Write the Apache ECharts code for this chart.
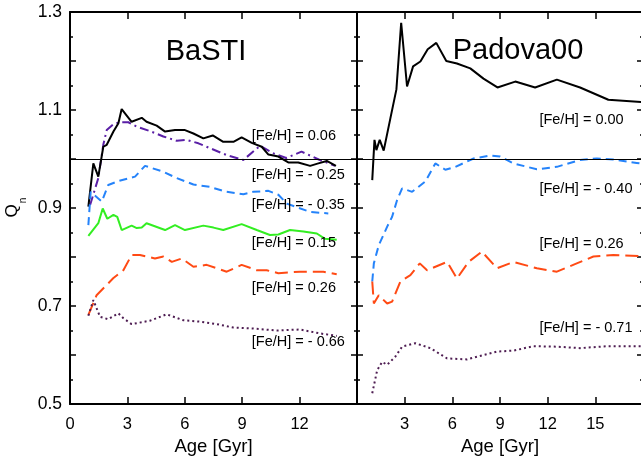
<!DOCTYPE html>
<html>
<head>
<meta charset="utf-8">
<script src="https://cdn.jsdelivr.net/npm/echarts@6/dist/echarts.min.js"></script>
<style>
  html, body { margin: 0; padding: 0; background: #fff; }
  #chart { width: 641px; height: 456px; }
</style>
</head>
<body>
<div id="chart"></div>
<script>
// BaSTI panel (age in Gyr, Q_n)
var bastiAgeA = [0.96,1.22,1.48,1.74,1.92,2.27,2.53,2.70,3.22,3.75,4.0,4.53,4.97,5.49,6.01,6.45,6.97,7.46,8.01,8.54,8.97,9.5,10.02,10.37,10.89,11.41,11.93,12.55,12.98,13.42,13.9];
var bastiQA    = [0.903,0.991,0.964,1.025,1.029,1.056,1.073,1.102,1.076,1.084,1.076,1.068,1.056,1.059,1.059,1.052,1.042,1.048,1.035,1.035,1.044,1.033,1.025,1.009,1.005,0.993,0.993,0.986,0.991,0.996,0.986];
var bastiAgeB = [1.05,1.48,1.74,1.92,2.27,2.61,3.05,3.49,4.18,4.88,5.58,6.1,6.71,7.32,8.19,9.06,9.93,10.6,11.3,12.1,13.0,13.85];
var bastiQB    = [0.906,0.961,1.029,1.059,1.071,1.075,1.075,1.066,1.057,1.046,1.037,1.039,1.032,1.022,1.008,0.998,1.027,1.012,1.002,1.015,0.999,0.986];
var bastiAgeC = [0.96,1.08,1.66,2.0,2.53,3.4,3.92,4.88,5.58,6.45,7.32,8.19,9.06,9.58,10.37,10.89,11.33,12.55,13.5];
var bastiQC    = [0.865,0.933,0.913,0.947,0.955,0.964,0.986,0.974,0.961,0.948,0.943,0.933,0.928,0.933,0.935,0.927,0.909,0.892,0.889];
var bastiAgeD = [0.96,1.48,1.71,1.95,2.27,2.47,2.7,3.22,3.49,3.75,4.0,4.97,5.49,6.01,6.97,7.5,8.01,8.97,9.76,10.45,10.89,11.5,12.2,12.9,13.33,13.94];
var bastiQD    = [0.843,0.869,0.899,0.878,0.886,0.882,0.855,0.864,0.859,0.86,0.869,0.855,0.865,0.855,0.864,0.86,0.855,0.867,0.855,0.845,0.846,0.855,0.852,0.848,0.837,0.835];
var bastiAgeE = [0.96,1.39,2.27,2.79,3.22,3.66,4.44,4.88,5.32,5.84,6.45,7.14,8.19,8.97,9.76,10.28,10.89,12.02,13.24,13.94];
var bastiQE    = [0.682,0.722,0.757,0.773,0.804,0.804,0.797,0.801,0.79,0.797,0.78,0.784,0.77,0.784,0.773,0.773,0.767,0.77,0.77,0.765];
var bastiAgeF = [0.96,1.22,1.57,2.0,2.53,2.79,3.22,4.18,5.05,5.92,6.8,7.67,8.54,9.58,10.8,12.02,13.07,13.94];
var bastiQF    = [0.680,0.712,0.678,0.673,0.685,0.675,0.663,0.670,0.683,0.671,0.668,0.663,0.656,0.654,0.650,0.652,0.644,0.639];

// Padova00 panel
var padAgeA = [0.96,1.1,1.22,1.43,1.68,2.1,2.48,2.78,3.15,3.53,3.99,4.45,4.99,5.62,6.29,7.13,7.96,8.84,9.96,11.21,12.58,14.04,15.82,18.0];
var padQA    = [0.957,1.039,1.018,1.039,1.017,1.083,1.142,1.278,1.148,1.189,1.199,1.224,1.237,1.2,1.195,1.185,1.164,1.146,1.158,1.146,1.162,1.146,1.121,1.116];
var padAgeB = [0.96,1.06,1.37,1.9,2.21,2.52,2.84,3.47,4.3,4.93,5.56,6.19,7.34,8.38,9.01,9.85,11.32,12.58,14.04,15.09,16.13,17.6,18.0];
var padQB    = [0.75,0.787,0.824,0.862,0.882,0.916,0.94,0.933,0.954,0.991,0.978,0.984,1.001,1.007,1.005,0.991,0.979,0.984,0.998,1.001,0.999,0.992,0.99];
var padAgeC = [0.96,1.06,1.37,1.9,2.21,2.73,3.36,3.95,4.41,5.67,6.29,7.02,7.86,8.81,9.85,11.32,12.58,13.83,14.88,16.13,17.7,18.0];
var padQC    = [0.75,0.705,0.722,0.705,0.709,0.75,0.763,0.787,0.773,0.79,0.756,0.79,0.811,0.777,0.79,0.777,0.77,0.787,0.801,0.804,0.802,0.8];
var padAgeD = [0.96,1.27,1.58,1.9,2.42,2.84,3.67,4.62,5.67,6.92,7.96,8.81,9.85,11.11,12.58,14.04,15.72,17.6,18.0];
var padQD    = [0.522,0.569,0.586,0.58,0.597,0.617,0.624,0.614,0.593,0.591,0.6,0.607,0.609,0.618,0.617,0.614,0.618,0.618,0.618];

var bastiLabels = [
	{text: '[Fe/H] = 0.06',   age: 9.5, q: 1.047},
	{text: '[Fe/H] = - 0.25', age: 9.5, q: 0.967},
	{text: '[Fe/H] = - 0.35', age: 9.5, q: 0.906},
	{text: '[Fe/H] = 0.15',   age: 9.5, q: 0.828},
	{text: '[Fe/H] = 0.26',   age: 9.5, q: 0.737},
	{text: '[Fe/H] = - 0.66', age: 9.5, q: 0.627}
];
var padLabels = [
	{text: '[Fe/H] = 0.00',   age: 11.48, q: 1.080},
	{text: '[Fe/H] = - 0.40', age: 11.48, q: 0.939},
	{text: '[Fe/H] = 0.26',   age: 11.48, q: 0.826},
	{text: '[Fe/H] = - 0.71', age: 11.48, q: 0.655}
];

var FONT = "'Liberation Sans', Helvetica, Arial, sans-serif";

function zip(xs, ys){
	return xs.map(function(x, i){ return [x, ys[i]]; });
}

function xAx(grid, pos, max, showLabel, hide){
	return {
		type: 'value', gridIndex: grid, position: pos, min: 0, max: max, interval: 3,
		axisLine: {show: true, onZero: false, lineStyle: {color: '#000', width: 2}},
		axisTick: {show: true, inside: true, length: 7, lineStyle: {color: '#000', width: 1.5}},
		axisLabel: {
			show: showLabel, color: '#000', fontSize: 16.5, fontFamily: FONT, margin: 12,
			formatter: function(v){ return hide.indexOf(v) >= 0 ? '' : String(v); }
		},
		splitLine: {show: false},
		name: showLabel ? 'Age [Gyr]' : '', nameLocation: 'middle', nameGap: 31,
		nameTextStyle: {color: '#000', fontSize: 18.5, fontFamily: FONT}
	};
}

function yAx(grid, pos, showLabel){
	return {
		type: 'value', gridIndex: grid, position: pos, min: 0.5, max: 1.3, interval: 0.1,
		axisLine: {show: true, onZero: false, lineStyle: {color: '#000', width: 2}},
		axisTick: {show: true, inside: true, length: 6, lineStyle: {color: '#000', width: 1.5}},
		minorTick: {show: true, splitNumber: 2, length: 3, lineStyle: {color: '#000', width: 1.5}},
		axisLabel: {
			show: showLabel, color: '#000', fontSize: 17.5, fontFamily: FONT, margin: 8,
			formatter: function(v){ return Math.round(v * 10) % 2 === 1 ? v.toFixed(1) : ''; }
		},
		splitLine: {show: false}
	};
}

function line(name, xi, yi, data, color, type, width){
	return {
		name: name, type: 'line', xAxisIndex: xi, yAxisIndex: yi, data: data,
		symbol: 'none', smooth: false, clip: true,
		lineStyle: {color: color, width: width || 2, type: type}
	};
}

var refLine = {
	silent: true, symbol: 'none', animation: false,
	label: {show: false},
	lineStyle: {color: '#000', width: 1, type: 'solid'},
	data: [{yAxis: 1.0}]
};

var series = [
	line('b-0.25', 0, 0, zip(bastiAgeB, bastiQB), '#5a1fa6', [9, 4, 2, 4]),
	line('b0.06', 0, 0, zip(bastiAgeA, bastiQA), '#000000', 'solid'),
	line('b-0.35', 0, 0, zip(bastiAgeC, bastiQC), '#2583fa', [8, 5]),
	line('b0.15', 0, 0, zip(bastiAgeD, bastiQD), '#33ee22', 'solid'),
	line('b0.26', 0, 0, zip(bastiAgeE, bastiQE), '#ff4a14', [13, 6]),
	line('b-0.66', 0, 0, zip(bastiAgeF, bastiQF), '#4e1d52', [2, 3]),
	line('p0.00', 2, 2, zip(padAgeA, padQA), '#000000', 'solid'),
	line('p-0.40', 2, 2, zip(padAgeB, padQB), '#2583fa', [8, 5]),
	line('p0.26', 2, 2, zip(padAgeC, padQC), '#ff4a14', [13, 6]),
	line('p-0.71', 2, 2, zip(padAgeD, padQD), '#4e1d52', [2, 3])
];
series[1].markLine = refLine;
series[6].markLine = refLine;

var chart = echarts.init(document.getElementById('chart'));
chart.setOption({
	animation: false,
	backgroundColor: '#fff',
	grid: [
		{left: 70, top: 12, width: 287, height: 392, outerBoundsMode: 'none', containLabel: false},
		{left: 357, top: 12, width: 286, height: 392, outerBoundsMode: 'none', containLabel: false}
	],
	xAxis: [
		xAx(0, 'bottom', 15, true, [15]),
		xAx(0, 'top', 15, false, []),
		xAx(1, 'bottom', 18, true, [0, 18]),
		xAx(1, 'top', 18, false, [])
	],
	yAxis: [
		yAx(0, 'left', true),
		yAx(0, 'right', false),
		yAx(1, 'left', false),
		yAx(1, 'right', false)
	],
	series: series
});

// annotations placed through the axes
var gfx = [];
bastiLabels.forEach(function(l){
	var p = chart.convertToPixel({xAxisIndex: 0, yAxisIndex: 0}, [l.age, l.q]);
	gfx.push({type: 'text', x: p[0], y: p[1], z: 10,
		style: {text: l.text, fill: '#000', font: '14.5px ' + FONT, verticalAlign: 'middle'}});
});
padLabels.forEach(function(l){
	var p = chart.convertToPixel({xAxisIndex: 2, yAxisIndex: 2}, [l.age, l.q]);
	gfx.push({type: 'text', x: p[0], y: p[1], z: 10,
		style: {text: l.text, fill: '#000', font: '14.5px ' + FONT, verticalAlign: 'middle'}});
});
gfx.push({type: 'text', x: 206, y: 52, z: 10,
	style: {text: 'BaSTI', fill: '#000', font: '29px ' + FONT, align: 'center', verticalAlign: 'middle'}});
gfx.push({type: 'text', x: 518, y: 51, z: 10,
	style: {text: 'Padova00', fill: '#000', font: '29px ' + FONT, align: 'center', verticalAlign: 'middle'}});
gfx.push({type: 'text', x: 12, y: 211, rotation: Math.PI / 2, z: 10,
	style: {text: 'Q', fill: '#000', font: '17px ' + FONT, align: 'center', verticalAlign: 'middle'}});
gfx.push({type: 'text', x: 23.5, y: 200.5, rotation: Math.PI / 2, z: 10,
	style: {text: 'n', fill: '#000', font: '10px ' + FONT, align: 'center', verticalAlign: 'middle'}});
chart.setOption({graphic: gfx});
</script>
</body>
</html>
